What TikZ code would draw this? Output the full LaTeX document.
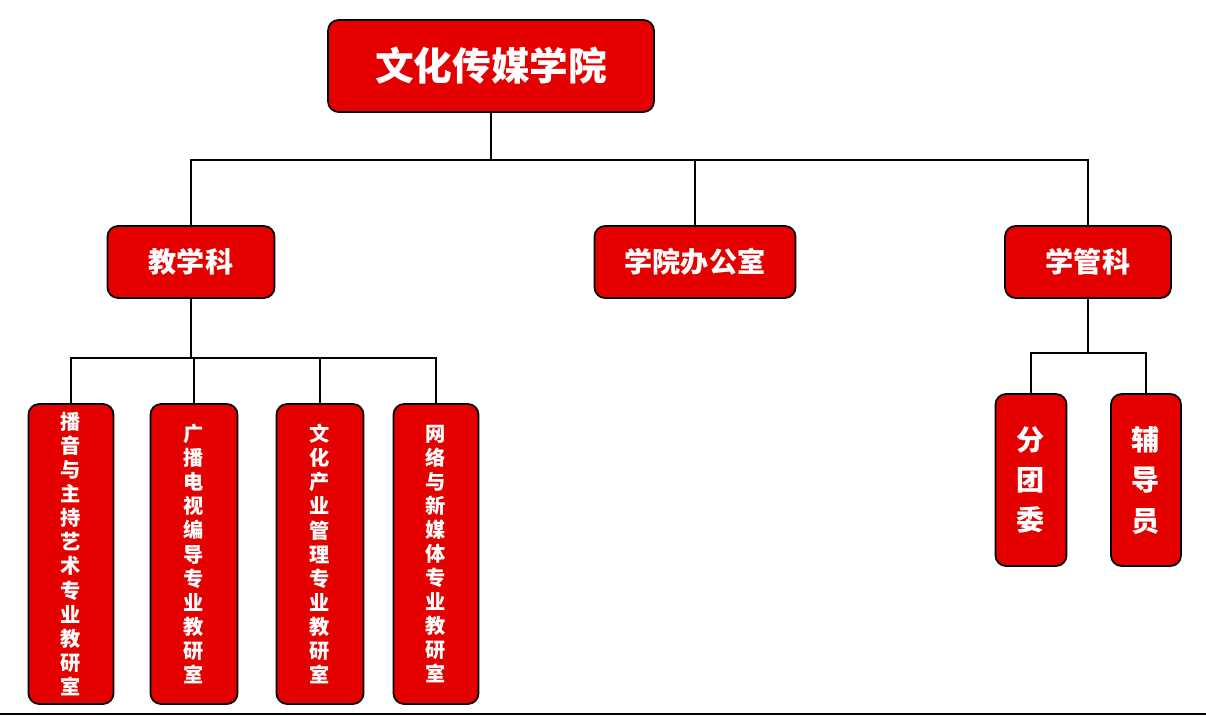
\documentclass[tikz,border=0pt]{standalone}
\usepackage{fontspec}
\newfontfamily\cjk{Noto Sans CJK SC}
\usetikzlibrary{positioning}
\tikzset{
  box/.style={draw=black, line width=1pt, fill=red!90!black, rounded corners=6pt,
    text=white, font=\cjk\bfseries, inner sep=0pt, align=center},
  leaf/.style={box, font=\cjk\bfseries\fontsize{11.5}{13.7}\selectfont, minimum width=1.7cm, minimum height=6cm},
  link/.style={line width=1pt, black}
}
\begin{document}
\begin{tikzpicture}[x=0.02cm,y=-0.02cm]
\useasboundingbox (0,0) rectangle (1206,716);
% top
\node[box, minimum width=6.52cm, minimum height=1.84cm, font=\cjk\bfseries\fontsize{22}{26}\selectfont] (root) at (491,66) {文化传媒学院};
% second level
\node[box, minimum width=3.34cm, minimum height=1.44cm, font=\cjk\bfseries\fontsize{16}{20}\selectfont] (teach) at (191,262) {教学科};
\node[box, minimum width=4.02cm, minimum height=1.44cm, font=\cjk\bfseries\fontsize{16}{20}\selectfont] (office) at (695,262) {学院办公室};
\node[box, minimum width=3.32cm, minimum height=1.44cm, font=\cjk\bfseries\fontsize{16}{20}\selectfont] (manage) at (1088,262) {学管科};
% teaching offices
\node[leaf] (boyin) at (71,554) {播\\音\\与\\主\\持\\艺\\术\\专\\业\\教\\研\\室};
\node[leaf, minimum width=1.74cm] (guangbo) at (194,554) {广\\播\\电\\视\\编\\导\\专\\业\\教\\研\\室};
\node[leaf, minimum width=1.74cm] (chanye) at (320,554) {文\\化\\产\\业\\管\\理\\专\\业\\教\\研\\室};
\node[leaf] (wangluo) at (436,554) {网\\络\\与\\新\\媒\\体\\专\\业\\教\\研\\室};
% student affairs
\node[box, minimum width=1.42cm, minimum height=3.44cm, font=\cjk\bfseries\fontsize{16}{23}\selectfont] (tuanwei) at (1031,480) {分\\团\\委};
\node[box, minimum width=1.4cm, minimum height=3.44cm, font=\cjk\bfseries\fontsize{16}{23}\selectfont] (fudao) at (1146,480) {辅\\导\\员};
% connectors
\coordinate (bus) at (491,160);
\draw[link] (root.south) -- (bus);
\foreach \n in {teach,office,manage}
  \draw[link] (bus) -| (\n.north);
\coordinate (tbus) at (191,358);
\draw[link] (teach.south) -- (tbus);
\foreach \n in {boyin,guangbo,chanye,wangluo}
  \draw[link] (tbus) -| (\n.north);
\coordinate (mbus) at (1088,353);
\draw[link] (manage.south) -- (mbus);
\foreach \n in {tuanwei,fudao}
  \draw[link] (mbus) -| (\n.north);
\draw[line width=1.5pt] (0,714) -- (1206,714);
\end{tikzpicture}
\end{document}
